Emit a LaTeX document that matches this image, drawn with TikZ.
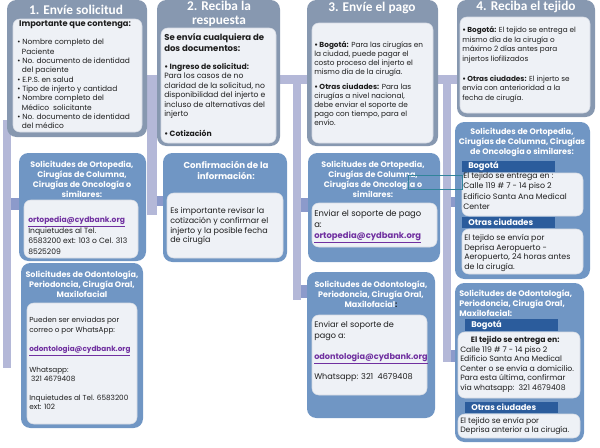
\documentclass[tikz,border=0pt]{standalone}
\usepackage{fontspec}
\setmainfont{Poppins}
\newfontfamily\hdrfam{Carlito}
\usetikzlibrary{fit}

\definecolor{hdrgray}{HTML}{8798B0}
\definecolor{boxblue}{HTML}{7096C4}
\definecolor{cityblue}{HTML}{2B5C9C}
\definecolor{panel}{HTML}{EEF1F6}
\definecolor{panelline}{HTML}{D5DAE3}
\definecolor{lav}{HTML}{B4B8D8}
\definecolor{lavdark}{HTML}{8C9ACB}
\definecolor{linkpurple}{HTML}{7030A0}
\definecolor{tealline}{HTML}{31849B}
\definecolor{txt}{HTML}{1E1E1E}

\newcommand\hdrfont{\hdrfam\fontsize{10}{10.2}\selectfont\bfseries}
\newcommand\ttlfont{\fontsize{6}{7.5}\selectfont\bfseries}
\newcommand\bodyfont{\fontsize{5.6}{7}\selectfont}
\newcommand\mail[1]{\textcolor{linkpurple}{\bfseries\underline{#1}}}

\tikzset{
  hdrbox/.style={fill=hdrgray, rounded corners=7pt, inner sep=0pt},
  bluebox/.style={fill=boxblue, rounded corners=7pt, inner sep=0pt},
  panelbox/.style={fill=panel, draw=panelline, line width=0.4pt, rounded corners=5pt, inner sep=0pt},
  cityband/.style={fill=cityblue, inner sep=0pt},
  citytext/.style={text=white, font=\fontsize{6.2}{7}\selectfont\bfseries, anchor=west, inner sep=0pt},
  hdrtext/.style={text=white, font=\hdrfont, align=center, inner sep=0pt},
  ttltext/.style={text=white, font=\ttlfont, align=center, inner sep=0pt},
  bodytext/.style={text=txt, font=\bodyfont, align=left, inner sep=0pt, anchor=north west},
  lavbar/.style={fill=lav},
  lavstub/.style={fill=lavdark},
}

\begin{document}
\begin{tikzpicture}[x=0.75pt,y=-0.75pt]
  \useasboundingbox (0,0) rectangle (600,447);
  % barras de fondo
  \fill[lavbar] (3,120) rectangle (11,368);
  \fill[lavbar] (143,75) rectangle (458,84);
  \fill[lavbar] (147,75) rectangle (157,215);
  \fill[lavbar] (293,75) rectangle (301,300);
  \fill[lavbar] (443,75) rectangle (451,362);
  \fill[lavstub] (11,198) rectangle (20,210);
  \fill[lavstub] (157,196) rectangle (165,206);
  \fill[lavstub] (301,198) rectangle (309,212);
  \fill[lavstub] (301,285) rectangle (308,298);
  \fill[lavstub] (451,197) rectangle (456,207);
  \fill[lavstub] (451,350) rectangle (456,362);

  % 1. Envie solicitud
  \node[hdrbox, fit={(7,0) (147,137)}] (paso1) {};
  \node[panelbox, fit={(13,19) (142,132)}] (paso1p) {};
  \node[hdrtext] (paso1t) at (76,9.5) {1. Envíe solicitud};
  \node[text=txt, font=\fontsize{6.2}{7}\selectfont\bfseries, inner sep=0pt] (paso1i) at (75,25) {Importante que contenga:};
  \node[bodytext] (paso1b) at (17,39) {\textbullet\ Nombre completo del\\
    \hspace*{3.5pt}Paciente\\
    \textbullet\ No. documento de identidad\\
    \hspace*{3.5pt}del paciente\\
    \textbullet\ E.P.S. en salud\\
    \textbullet\ Tipo de injerto y cantidad\\
    \textbullet\ Nombre completo del\\
    \hspace*{3.5pt}Médico\ \ solicitante\\
    \textbullet\ No. documento de identidad\\
    \hspace*{3.5pt}del médico};

  \node[bluebox, fit={(19,153) (146,261)}] (orto1) {};
  \node[ttltext] (orto1t) at (82,179) {Solicitudes de Ortopedia,\\Cirugías de Columna,\\Cirugías de Oncología o\\similares:};
  \node[panelbox, fit={(24,200) (138,258)}] (orto1p) {};
  \node[bodytext, font=\fontsize{5.7}{8}\selectfont] (orto1b) at (28,216) {\mail{ortopedia@cydbank.org}\\Inquietudes al Tel.\\6583200 ext: 103 o Cel. 313\\8525209};

  \node[bluebox, fit={(21,263) (143,428)}] (odon1) {};
  \node[ttltext] (odon1t) at (82,284) {Solicitudes de Odontología,\\Periodoncia, Cirugía Oral,\\Maxilofacial};
  \node[panelbox, fit={(27,303) (137,424)}] (odon1p) {};
  \node[bodytext, font=\fontsize{5.45}{7.1}\selectfont] (odon1b) at (29,317) {Pueden ser enviadas por\\correo o por WhatsApp:\\[7.1pt]
    \mail{odontologia@cydbank.org}\\[7.1pt]
    Whatsapp:\\\ 321 4679408\\[7.1pt]
    Inquietudes al Tel. 6583200\\ext: 102};

  % 2. Reciba la respuesta
  \node[hdrbox, fit={(157,0) (280,146)}] (paso2) {};
  \node[panelbox, fit={(161,28) (276,143)}] (paso2p) {};
  \node[hdrtext] (paso2t) at (219,14) {2. Reciba la\\respuesta};
  \node[bodytext, font=\fontsize{6.4}{8.2}\selectfont\bfseries] (paso2i) at (164,33) {Se envía cualquiera de\\dos documentos:};
  \node[bodytext, font=\fontsize{5.75}{7.1}\selectfont] (paso2b) at (164,63) {\textbf{\textbullet\ Ingreso de solicitud:}\\Para los casos de no\\claridad de la solicitud, no\\disponibilidad del injerto e\\incluso de alternativas del\\injerto\\[8pt]
    \textbf{\textbullet\ Cotización}};

  \node[bluebox, fit={(163,153) (287,262)}] (conf2) {};
  \node[ttltext, font=\fontsize{6.5}{8}\selectfont\bfseries] (conf2t) at (226,170.5) {Confirmación de la\\información:};
  \node[panelbox, fit={(167,193) (283,258)}] (conf2p) {};
  \node[bodytext, font=\fontsize{6}{7.4}\selectfont] (conf2b) at (170,207) {Es importante revisar la\\cotización y confirmar el\\injerto y la posible fecha\\de cirugía};

  % 3. Envie el pago
  \node[hdrbox, fit={(307,0) (438,146)}] (paso3) {};
  \node[panelbox, fit={(312,23) (433,143)}] (paso3p) {};
  \node[hdrtext] (paso3t) at (372,8) {3. Envíe el pago};
  \node[bodytext, font=\fontsize{5.5}{6.8}\selectfont] (paso3b) at (314,41) {\textbf{\textbullet\ Bogotá:} Para las cirugías en\\la ciudad, puede pagar el\\costo proceso del injerto el\\mismo día de la cirugía.\\[4.5pt]
    \textbf{\textbullet\ Otras ciudades:} Para las\\cirugías a nivel nacional,\\debe enviar el soporte de\\pago con tiempo, para el\\envío.};

  \node[bluebox, fit={(308,153) (440,262)}] (orto3) {};
  \node[ttltext] (orto3t) at (373,179.5) {Solicitudes de Ortopedia,\\Cirugías de Columna,\\Cirugías de Oncología o\\similares:};
  \node[panelbox, fit={(312,203) (437,247)}] (orto3p) {};
  \node[bodytext, font=\fontsize{6.3}{8.2}\selectfont] (orto3b) at (314,210) {Enviar el soporte de pago\\a:\\\mail{ortopedia@cydbank.org}};

  \node[bluebox, fit={(307,272) (435,418)}] (odon3) {};
  \node[ttltext] (odon3t) at (371,294) {Solicitudes de Odontología,\\Periodoncia, Cirugía Oral,\\Maxilofacial\textcolor{txt}{:}};
  \node[panelbox, fit={(312,315) (427,395)}] (odon3p) {};
  \node[bodytext, font=\fontsize{6.1}{8.2}\selectfont] (odon3b) at (314,321) {Enviar el soporte de\\pago a:\\[7.5pt]
    \mail{odontologia@cydbank.org}\\[6.8pt]
    Whatsapp: 321\ \ 4679408};

  % 4. Reciba el tejido
  \node[hdrbox, fit={(457,0) (595,117)}] (paso4) {};
  \node[panelbox, fit={(460,17) (590,113)}] (paso4p) {};
  \node[hdrtext] (paso4t) at (526,6.5) {4. Reciba el tejido};
  \node[bodytext, font=\fontsize{5.45}{7.3}\selectfont] (paso4b) at (462,26) {\textbf{\textbullet\ Bogotá:} El tejido se entrega el\\mismo día de la cirugía o\\máximo 2 días antes para\\injertos liofilizados\\[7.5pt]
    \textbf{\textbullet\ Otras ciudades:} El injerto se\\envía con anterioridad a la\\fecha de cirugía.};

  \node[bluebox, fit={(455,122) (590,279)}] (orto4) {};
  \node[ttltext] (orto4t) at (522,142) {Solicitudes de Ortopedia,\\Cirugías de Columna, Cirugías\\de Oncología o similares:};
  \node[cityband, fit={(462,161) (555,172)}] (orto4a) {};
  \node[citytext] (orto4at) at (468,166.5) {Bogotá};
  \node[panelbox, fit={(462,173) (583,216)}] (orto4ap) {};
  \node[bodytext, font=\fontsize{5.9}{7.9}\selectfont] (orto4ab) at (463,172) {El tejido se entrega en :\\Calle 119 \# 7 - 14 piso 2\\Edificio Santa Ana Medical\\Center};
  \node[cityband, fit={(462,217) (555,228)}] (orto4c) {};
  \node[citytext] (orto4ct) at (468,222.5) {Otras ciudades};
  \node[panelbox, fit={(462,229) (583,274)}] (orto4cp) {};
  \node[bodytext, font=\fontsize{5.9}{7.3}\selectfont] (orto4cb) at (464,234) {El tejido se envía por\\Deprisa Aeropuerto -\\Aeropuerto, 24 horas antes\\de la cirugía.};

  \node[bluebox, fit={(455,283) (584,442)}] (odon4) {};
  \node[ttltext, align=left, anchor=west] (odon4t) at (459,303) {Solicitudes de Odontología,\\Periodoncia, Cirugía Oral,\\Maxilofacial:};
  \node[cityband, fit={(465,319) (558,331)}] (odon4a) {};
  \node[citytext] (odon4at) at (471,325) {Bogotá};
  \node[panelbox, fit={(458,332) (580,398)}] (odon4ap) {};
  \node[bodytext, font=\fontsize{5.8}{7.2}\selectfont] (odon4ab) at (460,336) {\hspace*{8pt}\textbf{El tejido se entrega en:}\\Calle 119 \# 7 - 14 piso 2\\Edificio Santa Ana Medical\\Center o se envía a domicilio.\\Para esta última, confirmar\\vía whatsapp:\ \ 321 4679408};
  \node[cityband, fit={(465,402) (558,413)}] (odon4c) {};
  \node[citytext] (odon4ct) at (471,407.5) {Otras ciudades};
  \node[panelbox, fit={(458,414) (580,438)}] (odon4cp) {};
  \node[bodytext, font=\fontsize{5.8}{7.2}\selectfont] (odon4cb) at (460,417) {El tejido se envía por\\Deprisa anterior a la cirugía.};

  % marco verde
  \draw[tealline, line width=0.6pt] (408,175) rectangle (462,189);
\end{tikzpicture}
\end{document}
